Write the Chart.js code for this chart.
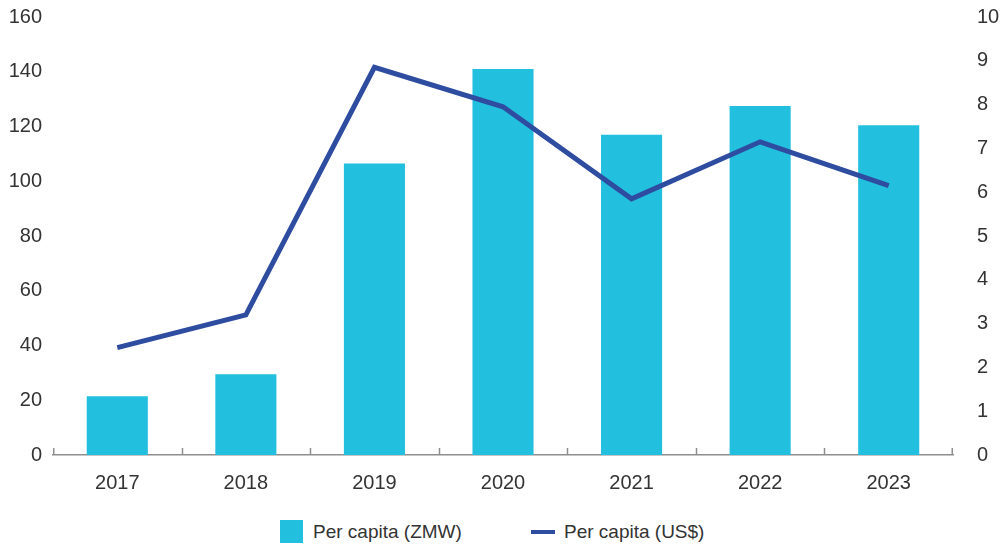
<!DOCTYPE html>
<html>
<head>
<meta charset="utf-8">
<title>Per capita</title>
<script src="https://cdn.jsdelivr.net/npm/chart.js@4"></script>
<style>
  html, body { margin: 0; padding: 0; background: #fff; }
  #wrap { position: relative; width: 1001px; height: 546px; }
  #chart-holder { position: absolute; left: 0; top: 0; width: 1001px; height: 500px; }
  .legend { position: absolute; top: 520px; font: 19px "Liberation Sans", Arial, sans-serif; color: #333; white-space: nowrap; }
  .legend span.box { position: absolute; left: 0; top: 0; width: 23px; height: 23px; }
  .legend span.line { position: absolute; left: 0; top: 10px; width: 24px; height: 4px; }
  .legend span.txt { position: absolute; top: 1px; }
</style>
</head>
<body>
<div id="wrap">
  <div id="chart-holder"><canvas id="chart-area"></canvas></div>
  <div class="legend" id="leg-bar" style="left:280px"><span class="box"></span><span class="txt" style="left:33px"></span></div>
  <div class="legend" id="leg-line" style="left:531px"><span class="line"></span><span class="txt" style="left:33px"></span></div>
</div>
<script>
  var years = ['2017', '2018', '2019', '2020', '2021', '2022', '2023'];
  var perCapitaZmw = [21.5, 29.5, 106.5, 141, 117, 127.5, 120.5];
  var perCapitaUsd = [2.45, 3.2, 8.85, 7.95, 5.85, 7.15, 6.15];
  var zmwTicks = [0, 20, 40, 60, 80, 100, 120, 140, 160];
  var usdTicks = [0, 1, 2, 3, 4, 5, 6, 7, 8, 9, 10];
  var seriesNames = ['Per capita (ZMW)', 'Per capita (US$)'];

  var cyan = 'rgb(34, 191, 222)';
  var navy = 'rgb(46, 76, 160)';
  var textColor = '#333333';
  var axisGrey = '#8e8e8e';
  var font = { family: '"Liberation Sans", Arial, sans-serif', size: 20 };

  // small upward ticks at category boundaries on the x axis
  var boundaryTicks = {
    id: 'boundaryTicks',
    afterDraw: function(chart) {
      var sc = chart.scales.x;
      var ctx = chart.ctx;
      var n = years.length;
      ctx.save();
      ctx.strokeStyle = axisGrey;
      ctx.lineWidth = 1.5;
      ctx.beginPath();
      for (var i = 0; i <= n; i++) {
        var x = Math.round(sc.left + i * sc.width / n) + 0.5;
        if (i === 0) x = sc.left + 0.75;
        if (i === n) x = sc.right - 0.75;
        ctx.moveTo(x, sc.top);
        ctx.lineTo(x, sc.top - 7);
      }
      ctx.stroke();
      ctx.restore();
    }
  };

  // fixed axis widths; keep the top of the plot at the same place on both sides
  function fitY(width) {
    return function(s) {
      s.width = width;
      s.paddingTop = 17;
      s.paddingBottom = 0;
    };
  }

  var config = {
    data: {
      labels: years,
      datasets: [{
        type: 'line',
        label: seriesNames[1],
        data: perCapitaUsd,
        yAxisID: 'y1',
        borderColor: navy,
        borderWidth: 5,
        borderCapStyle: 'butt',
        borderJoinStyle: 'miter',
        pointRadius: 0,
        tension: 0,
        order: 0
      }, {
        type: 'bar',
        label: seriesNames[0],
        data: perCapitaZmw,
        yAxisID: 'y',
        backgroundColor: cyan,
        categoryPercentage: 1,
        barPercentage: 0.475,
        order: 1
      }]
    },
    options: {
      responsive: true,
      maintainAspectRatio: false,
      animation: false,
      layout: { padding: 0 },
      plugins: { legend: { display: false }, tooltip: { enabled: false } },
      scales: {
        x: {
          offset: true,
          grid: { display: false, offset: true, drawTicks: false },
          border: { display: true, color: axisGrey, width: 1.5 },
          ticks: { color: textColor, font: font, padding: 16, maxRotation: 0 },
          afterFit: function(s) { s.height = 45; s.paddingLeft = 0; s.paddingRight = 0; }
        },
        y: {
          position: 'left',
          min: 0, max: 160,
          afterBuildTicks: function(s) { s.ticks = zmwTicks.map(function(v) { return { value: v }; }); },
          grid: { display: false, drawTicks: false },
          border: { display: false },
          ticks: { color: textColor, font: font, padding: 11 },
          afterFit: fitY(53)
        },
        y1: {
          position: 'right',
          min: 0, max: 10,
          afterBuildTicks: function(s) { s.ticks = usdTicks.map(function(v) { return { value: v }; }); },
          grid: { display: false, drawTicks: false },
          border: { display: false },
          ticks: { color: textColor, font: font, padding: 24 },
          afterFit: fitY(48)
        }
      }
    },
    plugins: [boundaryTicks]
  };

  var legBar = document.getElementById('leg-bar');
  legBar.querySelector('.box').style.background = cyan;
  legBar.querySelector('.txt').textContent = seriesNames[0];
  var legLine = document.getElementById('leg-line');
  legLine.querySelector('.line').style.background = navy;
  legLine.querySelector('.txt').textContent = seriesNames[1];

  var ctx = document.getElementById('chart-area').getContext('2d');
  window.perCapitaChart = new Chart(ctx, config);
</script>
</body>
</html>
